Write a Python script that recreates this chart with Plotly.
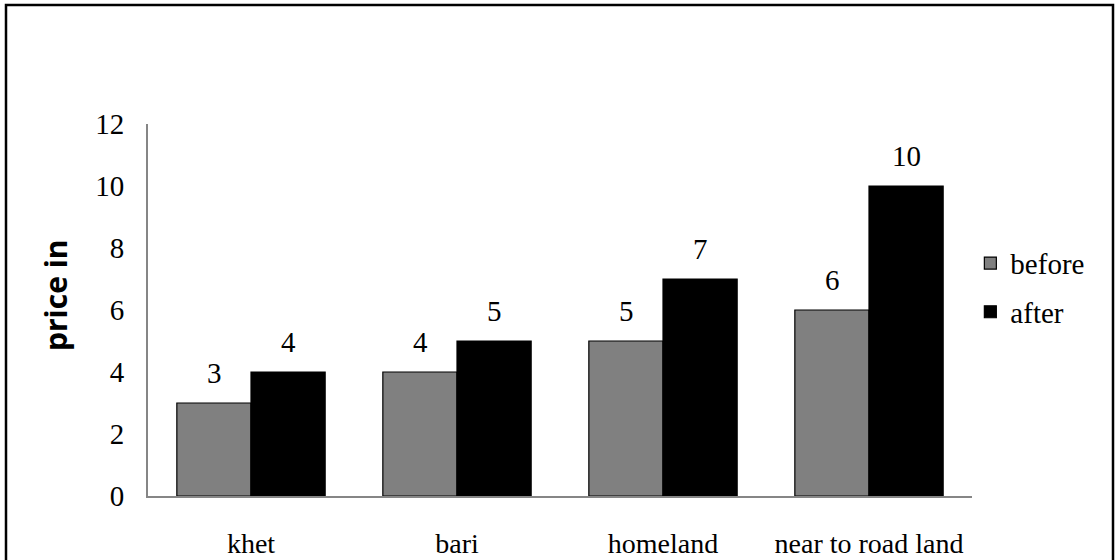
import plotly.graph_objects as go

categories = ["khet", "bari", "homeland", "near to road land"]
before = [3, 4, 5, 6]
after = [4, 5, 7, 10]
y_ticks = [0, 2, 4, 6, 8, 10, 12]

serif = "Liberation Serif, Times New Roman, serif"
FS = 29

fig = go.Figure()
fig.add_trace(go.Bar(
    name="before", x=categories, y=before, legendgroup="b",
    marker=dict(color="#808080", line=dict(color="black", width=1.2)),
))
fig.add_trace(go.Bar(
    name="after", x=categories, y=after, legendgroup="a",
    marker=dict(color="black", line=dict(color="black", width=1.2)),
))

annotations = []
for vals, shift in ((before, -37), (after, 37)):
    for c, v in zip(categories, vals):
        annotations.append(dict(
            x=c, y=v, xref="x", yref="y", text=str(v), showarrow=False,
            xshift=shift, yshift=12, yanchor="bottom",
            font=dict(family=serif, size=FS, color="black")))

annotations.append(dict(
    x=(55 - 148) / 824, y=(496 - 295) / 372, xref="paper", yref="paper",
    text="<b>price in</b>", textangle=-90, showarrow=False,
    xanchor="center", yanchor="middle",
    font=dict(family="Open Sans, Liberation Sans, sans-serif", size=30, color="black")))

fig.update_layout(
    width=1116, height=560,
    margin=dict(l=148, r=144, t=124, b=64, autoexpand=False),
    paper_bgcolor="white", plot_bgcolor="white",
    barmode="group", bargap=0.28, bargroupgap=0,
    font=dict(family=serif, size=FS, color="black"),
    showlegend=True,
    legend=dict(x=0.998, y=0.56, xanchor="left", yanchor="middle",
                font=dict(family=serif, size=FS, color="black"),
                tracegroupgap=8, bgcolor="rgba(0,0,0,0)"),
    xaxis=dict(showline=True, linecolor="#868686", linewidth=2,
               showgrid=False, ticks="", ticklabelstandoff=21, automargin=False,
               tickfont=dict(family=serif, size=28, color="black")),
    yaxis=dict(range=[0, 12], tickvals=y_ticks, showline=True,
               linecolor="#868686", linewidth=2, showgrid=False,
               zeroline=False, ticks="", ticklabelstandoff=16, automargin=False,
               tickfont=dict(family=serif, size=FS, color="black")),
    annotations=annotations,
    shapes=[dict(type="rect", xref="paper", yref="paper",
                 x0=(6 - 148) / 824, x1=(1113 - 148) / 824,
                 y0=(496 - 580) / 372, y1=(496 - 5) / 372,
                 line=dict(color="black", width=2.5), layer="below")],
)

fig.write_html("out.html")
